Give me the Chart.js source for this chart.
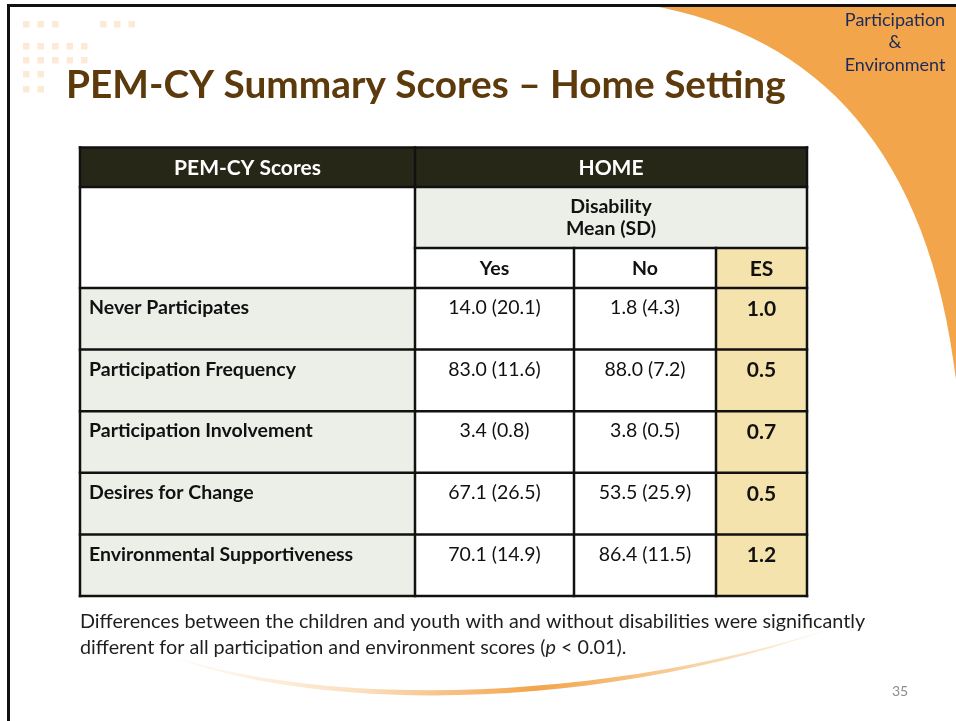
<!DOCTYPE html>
<html>
<head>
<meta charset="utf-8">
<title>PEM-CY Summary Scores – Home Setting</title>
<script src="https://cdn.jsdelivr.net/npm/chart.js@4.4.0/dist/chart.umd.min.js"></script>
<style>
  html, body { margin: 0; padding: 0; background: #fff; }
  canvas { display: block; }
</style>
</head>
<body>
<canvas id="slide" width="956" height="721"></canvas>
<script>
/* ── table data ─────────────────────────────────────────────── */
const rowLabels  = ['Never Participates', 'Participation Frequency', 'Participation Involvement',
                    'Desires for Change', 'Environmental Supportiveness'];
const yesMeans   = [14.0, 83.0, 3.4, 67.1, 70.1];
const yesSD      = [20.1, 11.6, 0.8, 26.5, 14.9];
const noMeans    = [1.8, 88.0, 3.8, 53.5, 86.4];
const noSD       = [4.3, 7.2, 0.5, 25.9, 11.5];
const esValues   = [1.0, 0.5, 0.7, 0.5, 1.2];
const colHeaders = ['Yes', 'No', 'ES'];
const groupTitle = 'HOME';
const subTitle   = ['Disability', 'Mean (SD)'];
const firstHead  = 'PEM-CY Scores';

/* ── layout / styles ────────────────────────────────────────── */
const COL_EDGES = [0, 335, 494, 636, 727];     // table units on the x scale
const HEAD_ROWS = [0.64, 0.99, 0.65];          // header row heights, in body-row units
const FONT   = 'Lato, "Open Sans", sans-serif';
const ORANGE = '#f2a54a';
const DARK   = '#272717';
const GREY   = '#ecefe8';
const YELLOW = '#f5e3ad';
const INK    = '#111';

const fmt = (m, s) => `${m.toFixed(1)} (${s.toFixed(1)})`;
const span = i => rowLabels.map(() => [COL_EDGES[i], COL_EDGES[i + 1]]);

function fitSize(ctx, text, weight, width) {
  ctx.font = `${weight} 100px ${FONT}`;
  return 100 * width / ctx.measureText(text).width;
}

function drawBackdrop(ctx) {
  ctx.save();
  ctx.fillStyle = '#fff';
  ctx.fillRect(0, 0, 956, 721);

  // orange swoosh, top right
  ctx.beginPath();
  ctx.moveTo(648, 5);
  ctx.bezierCurveTo(825, 36, 935, 160, 958, 398);
  ctx.lineTo(958, 5);
  ctx.closePath();
  ctx.fillStyle = ORANGE;
  ctx.fill();

  // slide frame
  ctx.strokeStyle = INK;
  ctx.lineWidth = 3;
  ctx.strokeRect(8.5, 5.5, 1000, 800);

  // little squares
  ctx.fillStyle = '#fdead6';
  const xs = [23, 37.5, 52, 66.5, 81];
  [[21, [23, 37.5, 52, 100, 114, 128.5]], [43, xs], [57, xs], [71, xs.slice(0, 2)], [86, xs.slice(0, 2)]]
    .forEach(([y, row]) => row.forEach(x => ctx.fillRect(x, y, 6.5, 6.5)));

  // title
  ctx.fillStyle = '#5c3a0c';
  ctx.textBaseline = 'alphabetic';
  ctx.textAlign = 'left';
  const title = 'PEM-CY Summary Scores – Home Setting';
  ctx.font = `bold ${fitSize(ctx, title, 'bold', 720)}px ${FONT}`;
  ctx.fillText(title, 66, 98);

  // corner label
  ctx.fillStyle = '#1b2a5c';
  ctx.textAlign = 'center';
  ctx.textBaseline = 'middle';
  ctx.font = `18px ${FONT}`;
  ['Participation', '&', 'Environment'].forEach((t, i) => ctx.fillText(t, 895, 20 + i * 22.5));

  // bottom swoosh
  const g = ctx.createLinearGradient(150, 0, 850, 0);
  g.addColorStop(0,    'rgba(242,165,74,0)');
  g.addColorStop(0.3,  'rgba(242,165,74,0.35)');
  g.addColorStop(0.55, 'rgba(242,165,74,1)');
  g.addColorStop(0.8,  'rgba(242,165,74,0.45)');
  g.addColorStop(1,    'rgba(242,165,74,0)');
  ctx.beginPath();
  ctx.moveTo(150, 648);
  ctx.bezierCurveTo(300, 715, 600, 715, 850, 622);
  ctx.bezierCurveTo(600, 708, 300, 708, 150, 648);
  ctx.closePath();
  ctx.fillStyle = g;
  ctx.fill();

  // footnote
  ctx.fillStyle = '#1e1e1e';
  ctx.textAlign = 'left';
  ctx.textBaseline = 'middle';
  const line1 = 'Differences between the children and youth with and without disabilities were significantly';
  const fs = fitSize(ctx, line1, 'normal', 786);
  ctx.font = `${fs}px ${FONT}`;
  ctx.fillText(line1, 80, 622);
  let x = 80;
  [['different for all participation and environment scores (', ''], ['p', 'italic '], [' < 0.01).', '']]
    .forEach(([t, st]) => {
      ctx.font = `${st}${fs}px ${FONT}`;
      ctx.fillText(t, x, 648);
      x += ctx.measureText(t).width;
    });

  // page number
  ctx.fillStyle = '#8c8c8c';
  ctx.font = `14px ${FONT}`;
  ctx.textAlign = 'center';
  ctx.fillText('35', 900, 691);
  ctx.restore();
}

const tablePlugin = {
  id: 'slideTable',
  beforeDraw(chart) { drawBackdrop(chart.ctx); },
  afterDatasetsDraw(chart) {
    const { ctx, scales: { x: xs, y: ys }, chartArea } = chart;
    const X = COL_EDGES.map(v => xs.getPixelForValue(v));
    const rowH = chartArea.height / rowLabels.length;
    const top = chartArea.top;
    const hy = [top];
    HEAD_ROWS.slice().reverse().forEach(h => hy.unshift(hy[0] - h * rowH));   // [t0, t1, t2, top]
    const L = X[0], R = X[X.length - 1];
    ctx.save();

    // header fills
    ctx.fillStyle = DARK;   ctx.fillRect(L, hy[0], R - L, hy[1] - hy[0]);
    ctx.fillStyle = '#fff'; ctx.fillRect(L, hy[1], R - L, hy[3] - hy[1]);
    ctx.fillStyle = GREY;   ctx.fillRect(X[1], hy[1], R - X[1], hy[2] - hy[1]);
    ctx.fillStyle = YELLOW; ctx.fillRect(X[3], hy[2], R - X[3], hy[3] - hy[2]);

    // header text
    ctx.textAlign = 'center';
    ctx.textBaseline = 'middle';
    ctx.fillStyle = '#fff';
    ctx.font = `bold 21px ${FONT}`;
    ctx.fillText(firstHead, (X[0] + X[1]) / 2, (hy[0] + hy[1]) / 2 + 1);
    ctx.fillText(groupTitle, (X[1] + R) / 2, (hy[0] + hy[1]) / 2 + 1);
    ctx.fillStyle = INK;
    ctx.font = `bold 19.5px ${FONT}`;
    ctx.fillText(subTitle[0], (X[1] + R) / 2, hy[1] + 20);
    ctx.fillText(subTitle[1], (X[1] + R) / 2, hy[1] + 42);
    colHeaders.forEach((t, i) => {
      ctx.font = `bold ${i === 2 ? 21 : 19.5}px ${FONT}`;
      ctx.fillText(t, (X[i + 1] + X[i + 2]) / 2, (hy[2] + hy[3]) / 2 + 1);
    });

    // body text from the bar elements
    const metas = chart.data.datasets.map((_, i) => chart.getDatasetMeta(i));
    rowLabels.forEach((label, r) => {
      const el = metas[0].data[r];
      const ty = el.y - el.height / 2 + 20;
      ctx.fillStyle = INK;
      ctx.textAlign = 'left';
      ctx.font = `bold 19.5px ${FONT}`;
      ctx.fillText(label, Math.min(el.x, el.base) + 9, ty);
      ctx.textAlign = 'center';
      ctx.font = `19.5px ${FONT}`;
      const c1 = metas[1].data[r], c2 = metas[2].data[r], c3 = metas[3].data[r];
      ctx.fillText(fmt(yesMeans[r], yesSD[r]), (c1.x + c1.base) / 2, ty);
      ctx.fillText(fmt(noMeans[r], noSD[r]), (c2.x + c2.base) / 2, ty);
      ctx.font = `bold 21px ${FONT}`;
      ctx.fillText(esValues[r].toFixed(1), (c3.x + c3.base) / 2, ty + 1);
    });

    // grid lines
    ctx.strokeStyle = INK;
    ctx.lineWidth = 2.5;
    ctx.lineCap = 'square';
    const B = chartArea.bottom;
    const seg = (x1, y1, x2, y2) => { ctx.beginPath(); ctx.moveTo(x1, y1); ctx.lineTo(x2, y2); ctx.stroke(); };
    [hy[0], hy[1], hy[3]].forEach(y => seg(L, y, R, y));
    seg(X[1], hy[2], R, hy[2]);
    rowLabels.forEach((_, r) => { const y = ys.getPixelForValue(r) + rowH / 2; seg(L, y, R, y); });
    seg(L, hy[0], L, B); seg(X[1], hy[0], X[1], B); seg(R, hy[0], R, B);
    seg(X[2], hy[2], X[2], B); seg(X[3], hy[2], X[3], B);
    ctx.restore();
  }
};

new Chart(document.getElementById('slide'), {
  type: 'bar',
  data: {
    labels: rowLabels,
    datasets: [
      { data: span(0), backgroundColor: GREY },
      { data: span(1), backgroundColor: '#fff' },
      { data: span(2), backgroundColor: '#fff' },
      { data: span(3), backgroundColor: YELLOW },
    ],
  },
  options: {
    indexAxis: 'y',
    responsive: false,
    animation: false,
    events: [],
    grouped: false,
    barPercentage: 1,
    categoryPercentage: 1,
    borderWidth: 0,
    layout: { padding: { left: 80, right: 149, top: 288, bottom: 125 } },
    scales: {
      x: { type: 'linear', min: COL_EDGES[0], max: COL_EDGES[4], display: false },
      y: { type: 'category', display: false },
    },
    plugins: { legend: { display: false }, tooltip: { enabled: false } },
  },
  plugins: [tablePlugin],
});
</script>
</body>
</html>
